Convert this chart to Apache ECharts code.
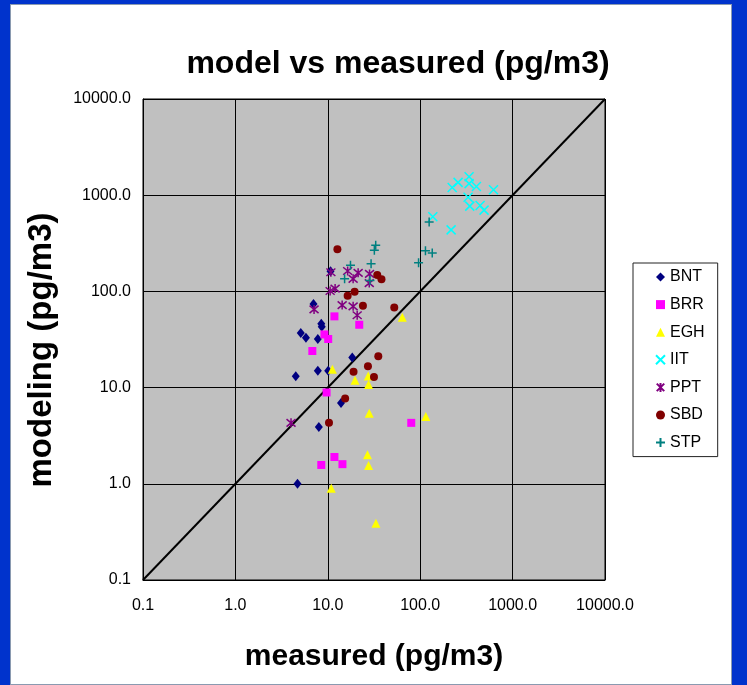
<!DOCTYPE html>
<html><head><meta charset="utf-8">
<script src="https://cdn.jsdelivr.net/npm/echarts@6/dist/echarts.min.js"></script>
<style>
html,body{margin:0;padding:0;width:747px;height:685px;overflow:hidden;background:#0033cc;}
#panel{position:absolute;left:10px;top:4px;width:722px;height:681px;background:#fff;box-shadow:inset 0 0 0 1px #8a9ab0;}
#chart{position:absolute;left:0;top:0;width:747px;height:685px;}
</style></head><body>
<div id="panel"></div><div id="chart"></div>
<script>
const seriesNames = ['BNT','BRR','EGH','IIT','PPT','SBD','STP'];
const tickLabels = ['0.1','1.0','10.0','100.0','1000.0','10000.0'];
const axisRange = [0.1, 10000];
const diagonal = [0.1, 10000];

const bntX = [10.7,7.0,8.5,8.6,5.1,5.8,7.8,18.4,7.8,10.1,4.5,13.9,8.0,4.7];
const bntY = [162,74,46,43,37,33,32,20.6,15,15,13.1,6.9,3.9,1.0];
const brrX = [11.8,21.9,9.2,10.1,6.8,9.7,80,11.8,14.4,8.5];
const brrY = [55,45,35.7,32,24,8.9,4.3,1.9,1.6,1.57];
const eghX = [64,11.2,19.7,27.4,27.6,28.1,115,26.9,27.6,10.9,33.2];
const eghY = [54,15.5,11.9,13.2,10.8,5.4,5.0,2.0,1.55,0.90,0.39];
const iitX = [222,257,338,338,406,621,330,344,445,491,137,216];
const iitY = [1200,1360,1555,1320,1230,1140,950,770,780,700,596,436];
const pptX = [10.8,16.4,21.3,18.8,28.3,28.1,10.6,12.0,14.3,18.8,20.8,7.1,4.0];
const pptY = [158,163,156,135,152,122,101,107,72,70,56.5,65,4.3];
const sbdX = [12.7,34.3,38.1,16.4,19.5,24.0,52.4,35.2,27.2,19.0,31.6,15.4,10.3];
const sbdY = [274,148,134,90,99,71,68,21.2,16.7,14.6,12.9,7.7,4.3];
const stpX = [33,31.9,17.6,29.4,15.2,28.6,125,114,135,96];
const stpY = [301,267,187,194,135,130,528,264,250,198];

const xs = [bntX,brrX,eghX,iitX,pptX,sbdX,stpX];
const ys = [bntY,brrY,eghY,iitY,pptY,sbdY,stpY];
const colors = ['#000080','#FF00FF','#FFFF00','#00FFFF','#800080','#800000','#008080'];
const symbols = ['diamond','rect','triangle',
  'path://M0,0L10,10M10,0L0,10',
  'path://M0,0L10,10M10,0L0,10M5,-1L5,11',
  'circle',
  'path://M5,0L5,10M0,5L10,5'];
const sizes = [[8,10],8,9,9,9,8,9];
const stroked = [false,false,false,true,true,false,true];

const pairs = (a,b)=>a.map((v,i)=>[v,b[i]]);
const FONT = '"Liberation Sans", Arial, sans-serif';

const series = [{
  name:'diag', type:'line', data:[[diagonal[0],diagonal[0]],[diagonal[1],diagonal[1]]],
  showSymbol:false, symbol:'none', silent:true,
  lineStyle:{color:'#000',width:2}, z:1
}];
seriesNames.forEach((n,i)=>{
  series.push({
    name:n, type:'scatter', data:pairs(xs[i],ys[i]),
    symbol:symbols[i], symbolSize:sizes[i],
    itemStyle: stroked[i] ? {color:'rgba(0,0,0,0)', borderColor:colors[i], borderWidth:1.5, opacity:1}
                          : {color:colors[i], opacity:1},
    z:3
  });
});

const fmt = v => tickLabels[Math.round(Math.log10(v)) + 1] || '';

const chart = echarts.init(document.getElementById('chart'), null, {renderer:'canvas'});
chart.setOption({
  animation:false,
  backgroundColor:'transparent',
  textStyle:{fontFamily:FONT},
  title:{text:'model vs measured (pg/m3)', left:393, top:43, textAlign:'center',
    textStyle:{fontFamily:FONT,fontSize:32,fontWeight:'bold',color:'#000'}},
  grid:{left:143, top:99, width:462, height:481, show:true, backgroundColor:'#C0C0C0', borderColor:'#000', borderWidth:1},
  legend:{
    data:seriesNames, orient:'vertical', left:633, top:263,
    backgroundColor:'#fff', borderColor:'#222', borderWidth:1,
    padding:[6,13,6,22], itemWidth:9, itemHeight:9, itemGap:11.6,
    textStyle:{fontFamily:FONT,fontSize:16,color:'#000',lineHeight:16}
  },
  xAxis:{type:'log', logBase:10, min:axisRange[0], max:axisRange[1], splitNumber:5,
    axisLine:{show:true,lineStyle:{color:'#000',width:1}}, axisTick:{show:false},
    axisLabel:{formatter:fmt, fontFamily:FONT, fontSize:16, color:'#000', margin:18},
    splitLine:{show:true,lineStyle:{color:'#000',width:1}}},
  yAxis:{type:'log', logBase:10, min:axisRange[0], max:axisRange[1], splitNumber:5,
    axisLine:{show:true,lineStyle:{color:'#000',width:1}}, axisTick:{show:false},
    axisLabel:{formatter:fmt, fontFamily:FONT, fontSize:16, color:'#000', margin:12},
    splitLine:{show:true,lineStyle:{color:'#000',width:1}}},
  graphic:[
    {type:'text', x:374, y:657, style:{text:'measured (pg/m3)', font:'bold 30px '+FONT, fill:'#000', textAlign:'center', textVerticalAlign:'middle'}},
    {type:'text', x:42, y:350, rotation:Math.PI/2, style:{text:'modeling (pg/m3)', font:'bold 33px '+FONT, fill:'#000', textAlign:'center', textVerticalAlign:'middle'}}
  ],
  series:series
});
</script>
</body></html>
